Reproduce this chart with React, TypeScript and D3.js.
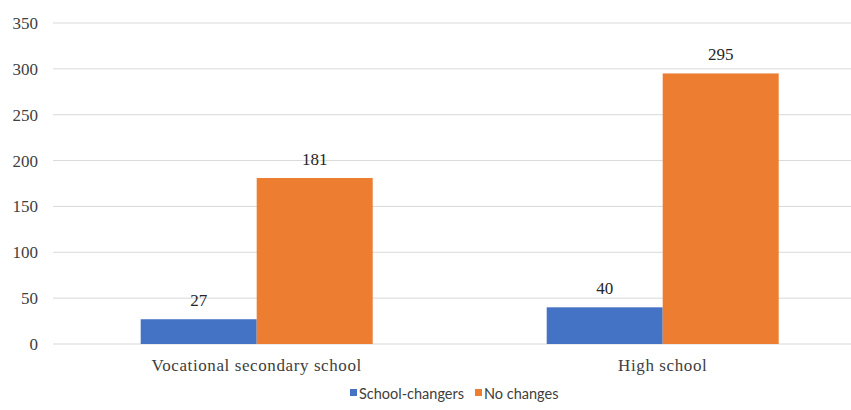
import React from "react";
import * as d3 from "d3";

const categories = ["Vocational secondary school", "High school"];
const seriesNames = ["School-changers", "No changes"];
const schoolChangers = [27, 40];
const noChanges = [181, 295];
const yTicks = [0, 50, 100, 150, 200, 250, 300, 350];
const colors = ["#4472C4", "#ED7D31"];

const W = 851;
const H = 410;
const SERIF = "'Liberation Serif', 'Times New Roman', 'DejaVu Serif', serif";

export default function App() {
  const x = d3
    .scaleBand<string>()
    .domain(categories)
    .range([53.7, 865.7])
    .paddingInner(0.4286)
    .paddingOuter(0.2143);
  const sub = d3.scaleBand<string>().domain(seriesNames).range([0, x.bandwidth()]);
  const y = d3.scaleLinear().domain([0, 350]).range([344, 23]);
  const values = [schoolChangers, noChanges];

  return (
    <svg width={W} height={H} style={{ position: "absolute", left: 0, top: 0, background: "#fff" }}>
      {yTicks.map((t) => (
        <g key={t}>
          <line x1={53} x2={866} y1={y(t)} y2={y(t)} stroke="#d9d9d9" strokeWidth={1} />
          <text
            x={38}
            y={y(t)}
            dy="0.35em"
            textAnchor="end"
            style={{ fontFamily: SERIF, fontSize: 17 }}
            fill="#404040"
          >
            {t}
          </text>
        </g>
      ))}
      {categories.map((c, ci) => (
        <g key={c}>
          {seriesNames.map((s, si) => {
            const v = values[si][ci];
            const bx = (x(c) ?? 0) + (sub(s) ?? 0);
            return (
              <g key={s}>
                <rect x={bx} y={y(v)} width={sub.bandwidth()} height={y(0) - y(v)} fill={colors[si]} />
                <text
                  x={bx + sub.bandwidth() / 2}
                  y={y(v) - 13}
                  textAnchor="middle"
                  style={{ fontFamily: SERIF, fontSize: 17 }}
                  fill="#262626"
                >
                  {v}
                </text>
              </g>
            );
          })}
          <text
            x={(x(c) ?? 0) + x.bandwidth() / 2}
            y={370.5}
            textAnchor="middle"
            style={{ fontFamily: SERIF, fontSize: 17, letterSpacing: 0.6 }}
            fill="#404040"
          >
            {c}
          </text>
        </g>
      ))}
      {seriesNames.map((s, si) => {
        const lx = [350, 475][si];
        return (
          <g key={s}>
            <rect x={lx} y={389} width={7} height={7} fill={colors[si]} />
            <text x={lx + 9} y={398.5} style={{ fontFamily: "Lato, Carlito, sans-serif", fontSize: 14.5 }} fill="#404040">
              {s}
            </text>
          </g>
        );
      })}
    </svg>
  );
}
